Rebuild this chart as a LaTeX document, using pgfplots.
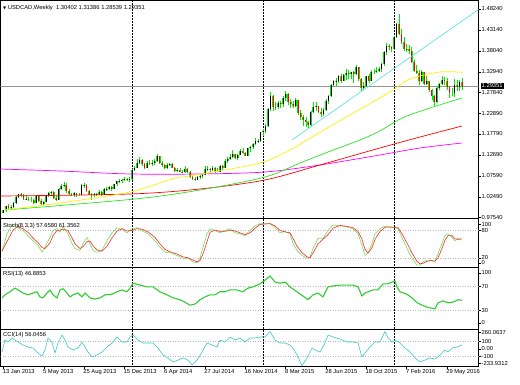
\documentclass[border=0pt]{standalone}
\usepackage{fontspec}
\setmainfont{Liberation Sans}
\newfontfamily\dejavu{DejaVu Sans}
\usepackage{pgfplots}
\usepackage{pgfplotstable}
\pgfplotsset{compat=1.18}

\definecolor{candle}{RGB}{0,235,0}
\definecolor{maY}{RGB}{255,240,0}
\definecolor{maG}{RGB}{40,230,40}
\definecolor{maR}{RGB}{255,0,0}
\definecolor{maM}{RGB}{255,0,255}
\definecolor{trend}{RGB}{80,225,225}
\definecolor{pline}{RGB}{150,150,150}
\definecolor{stM}{RGB}{110,225,90}
\definecolor{stS}{RGB}{255,40,40}
\definecolor{rsiC}{RGB}{50,205,50}
\definecolor{cciC}{RGB}{60,200,190}
\definecolor{lvl}{RGB}{185,185,185}

\newcommand\mtf{\fontsize{5.8}{6.5}\selectfont}

\pgfplotstableread{
i o h l c
0 0.9856 0.9935 0.9840 0.9920
1 0.9920 1.0030 0.9885 1.0015
2 1.0015 1.0065 0.9950 0.9975
3 0.9975 1.0035 0.9930 1.0000
4 1.0000 1.0110 0.9985 1.0090
5 1.0090 1.0265 1.0075 1.0245
6 1.0245 1.0325 1.0220 1.0305
7 1.0305 1.0345 1.0250 1.0290
8 1.0290 1.0310 1.0170 1.0200
9 1.0200 1.0280 1.0170 1.0205
10 1.0205 1.0250 1.0140 1.0160
11 1.0160 1.0230 1.0110 1.0160
12 1.0160 1.0190 1.0060 1.0095
13 1.0095 1.0295 1.0085 1.0275
14 1.0275 1.0285 1.0130 1.0150
15 1.0150 1.0190 1.0040 1.0080
16 1.0080 1.0150 1.0050 1.0125
17 1.0125 1.0290 1.0110 1.0280
18 1.0280 1.0370 1.0250 1.0340
19 1.0340 1.0395 1.0260 1.0365
20 1.0365 1.0400 1.0200 1.0220
21 1.0220 1.0260 1.0150 1.0180
22 1.0180 1.0450 1.0160 1.0435
23 1.0435 1.0560 1.0410 1.0515
24 1.0515 1.0610 1.0480 1.0530
25 1.0530 1.0580 1.0350 1.0385
26 1.0385 1.0445 1.0300 1.0325
27 1.0325 1.0350 1.0260 1.0290
28 1.0290 1.0375 1.0240 1.0330
29 1.0330 1.0350 1.0250 1.0300
30 1.0300 1.0340 1.0275 1.0300
31 1.0300 1.0550 1.0285 1.0530
32 1.0530 1.0575 1.0460 1.0545
33 1.0545 1.0560 1.0360 1.0385
34 1.0385 1.0420 1.0280 1.0300
35 1.0300 1.0330 1.0180 1.0280
36 1.0280 1.0340 1.0240 1.0310
37 1.0310 1.0350 1.0260 1.0320
38 1.0320 1.0410 1.0300 1.0360
39 1.0360 1.0380 1.0265 1.0300
40 1.0300 1.0450 1.0290 1.0435
41 1.0435 1.0480 1.0400 1.0445
42 1.0445 1.0520 1.0410 1.0480
43 1.0480 1.0500 1.0400 1.0440
44 1.0440 1.0570 1.0430 1.0560
45 1.0560 1.0640 1.0520 1.0620
46 1.0620 1.0670 1.0580 1.0630
47 1.0630 1.0690 1.0590 1.0650
48 1.0650 1.0720 1.0620 1.0690
49 1.0690 1.0710 1.0630 1.0660
50 1.0660 1.0720 1.0610 1.0670
51 1.0670 1.0920 1.0650 1.0900
52 1.0900 1.0990 1.0880 1.0960
53 1.0960 1.1170 1.0940 1.1080
54 1.1080 1.1225 1.1050 1.1140
55 1.1140 1.1180 1.1000 1.1040
56 1.1040 1.1060 1.0920 1.0960
57 1.0960 1.1130 1.0950 1.1080
58 1.1080 1.1140 1.1010 1.1060
59 1.1060 1.1150 1.1000 1.1070
60 1.1070 1.1160 1.1020 1.1120
61 1.1120 1.1280 1.1100 1.1240
62 1.1240 1.1250 1.1050 1.1060
63 1.1060 1.1110 1.0980 1.1020
64 1.1020 1.1040 1.0920 1.0950
65 1.0950 1.1060 1.0930 1.1030
66 1.1030 1.1080 1.0990 1.1050
67 1.1050 1.1070 1.0940 1.0960
68 1.0960 1.0980 1.0860 1.0880
69 1.0880 1.0940 1.0850 1.0900
70 1.0900 1.0950 1.0840 1.0860
71 1.0860 1.0910 1.0820 1.0840
72 1.0840 1.0990 1.0830 1.0930
73 1.0930 1.0950 1.0820 1.0850
74 1.0850 1.0880 1.0700 1.0720
75 1.0720 1.0750 1.0650 1.0680
76 1.0680 1.0720 1.0620 1.0660
77 1.0660 1.0760 1.0650 1.0720
78 1.0720 1.0790 1.0680 1.0750
79 1.0750 1.0800 1.0710 1.0780
80 1.0780 1.0990 1.0770 1.0920
81 1.0920 1.0990 1.0880 1.0930
82 1.0930 1.0960 1.0860 1.0890
83 1.0890 1.0990 1.0870 1.0960
84 1.0960 1.0980 1.0830 1.0860
85 1.0860 1.0960 1.0840 1.0860
86 1.0860 1.1020 1.0850 1.1000
87 1.1000 1.1030 1.0890 1.0960
88 1.0960 1.1160 1.0940 1.1110
89 1.1110 1.1220 1.1080 1.1180
90 1.1180 1.1280 1.1140 1.1220
91 1.1220 1.1380 1.1190 1.1280
92 1.1280 1.1300 1.1170 1.1190
93 1.1190 1.1280 1.1140 1.1270
94 1.1270 1.1410 1.1260 1.1370
95 1.1370 1.1440 1.1280 1.1320
96 1.1320 1.1340 1.1230 1.1250
97 1.1250 1.1440 1.1230 1.1430
98 1.1430 1.1480 1.1350 1.1460
99 1.1460 1.1570 1.1400 1.1540
100 1.1540 1.1680 1.1500 1.1600
101 1.1600 1.1650 1.1560 1.1610
102 1.1610 1.1830 1.1590 1.1820
103 1.1820 1.1900 1.1730 1.1850
104 1.1850 1.2030 1.1810 1.1970
105 1.1970 1.2400 1.1950 1.2375
106 1.2375 1.2800 1.2340 1.2710
107 1.2710 1.2720 1.2350 1.2445
108 1.2445 1.2560 1.2360 1.2430
109 1.2430 1.2580 1.2380 1.2530
110 1.2530 1.2580 1.2400 1.2510
111 1.2510 1.2700 1.2430 1.2650
112 1.2650 1.2835 1.2590 1.2760
113 1.2760 1.2780 1.2490 1.2550
114 1.2550 1.2620 1.2410 1.2500
115 1.2500 1.2590 1.2420 1.2450
116 1.2450 1.2650 1.2430 1.2600
117 1.2600 1.2610 1.2240 1.2280
118 1.2280 1.2360 1.2120 1.2190
119 1.2190 1.2230 1.1980 1.2120
120 1.2120 1.2190 1.1940 1.2070
121 1.2070 1.2100 1.1920 1.1990
122 1.1990 1.2330 1.1970 1.2320
123 1.2320 1.2560 1.2290 1.2440
124 1.2440 1.2560 1.2340 1.2450
125 1.2450 1.2460 1.2280 1.2325
126 1.2325 1.2400 1.2200 1.2270
127 1.2270 1.2420 1.2220 1.2360
128 1.2360 1.2640 1.2340 1.2590
129 1.2590 1.2740 1.2520 1.2710
130 1.2710 1.2990 1.2690 1.2960
131 1.2960 1.3100 1.2940 1.3060
132 1.3060 1.3150 1.2950 1.3080
133 1.3080 1.3220 1.3010 1.3190
134 1.3190 1.3230 1.3020 1.3080
135 1.3080 1.3250 1.3060 1.3210
136 1.3210 1.3350 1.3100 1.3260
137 1.3260 1.3330 1.3120 1.3240
138 1.3240 1.3300 1.3120 1.3280
139 1.3280 1.3320 1.3020 1.3240
140 1.3240 1.3460 1.3220 1.3410
141 1.3410 1.3420 1.3080 1.3130
142 1.3130 1.3140 1.2830 1.2900
143 1.2900 1.3040 1.2840 1.2950
144 1.2950 1.3200 1.2940 1.3180
145 1.3180 1.3240 1.3020 1.3080
146 1.3080 1.3330 1.3060 1.3300
147 1.3300 1.3370 1.3230 1.3300
148 1.3300 1.3400 1.3260 1.3320
149 1.3320 1.3400 1.3290 1.3350
150 1.3350 1.3500 1.3280 1.3480
151 1.3480 1.3800 1.3430 1.3770
152 1.3770 1.3990 1.3700 1.3920
153 1.3920 1.3960 1.3820 1.3890
154 1.3890 1.3930 1.3780 1.3840
155 1.3840 1.4170 1.3820 1.4140
156 1.4140 1.4480 1.4120 1.4460
157 1.4460 1.4690 1.4180 1.4225
158 1.4225 1.4330 1.3960 1.4020
159 1.4020 1.4150 1.3800 1.3860
160 1.3860 1.3960 1.3780 1.3850
161 1.3850 1.3950 1.3720 1.3790
162 1.3790 1.3900 1.3500 1.3525
163 1.3525 1.3580 1.3290 1.3325
164 1.3325 1.3460 1.3250 1.3270
165 1.3270 1.3330 1.2970 1.3065
166 1.3065 1.3330 1.3040 1.3300
167 1.3300 1.3300 1.2980 1.3000
168 1.3000 1.3190 1.2970 1.3070
169 1.3070 1.3080 1.2800 1.2850
170 1.2850 1.2870 1.2610 1.2705
171 1.2705 1.2730 1.2460 1.2550
172 1.2550 1.2920 1.2530 1.2910
173 1.2910 1.3030 1.2840 1.2990
174 1.2990 1.3190 1.2970 1.3095
175 1.3095 1.3170 1.2960 1.3060
176 1.3060 1.3140 1.2850 1.2915
177 1.2915 1.2950 1.2650 1.2770
178 1.2770 1.2900 1.2710 1.2770
179 1.2770 1.3120 1.2680 1.2970
180 1.2970 1.3100 1.2830 1.2920
181 1.2920 1.3100 1.2830 1.3040
182 1.3040 1.3139 1.2854 1.2935
}\ohlc

\pgfplotsset{
  mtbase/.style={
    scale only axis, width=478pt,
    axis line style={black, line width=0.9pt},
    tick style={black, line width=0.4pt},
    tick align=outside, major tick length=2.5pt,
    ytick pos=right, yticklabel pos=right,
    xtick=\empty,
    yticklabel style={font=\mtf, anchor=west, inner sep=0.5pt},
    xticklabel style={font=\mtf},
    clip=true,
  },
  sep/.style={black, line width=0.6pt, dash pattern=on 2pt off 1pt},
  lev/.style={lvl, line width=0.5pt, dash pattern=on 1pt off 1.5pt},
}

\begin{document}
\begin{tikzpicture}
\useasboundingbox[fill=white] (0,0) rectangle (520pt,384pt);

% ---------------- main price panel ----------------
\begin{axis}[mtbase, at={(0.5pt,165.5pt)}, anchor=south west, height=218pt,
  xmin=-1.15, xmax=188.53, ymin=0.9718, ymax=1.5031,
  ytick={1.4824,1.4314,1.3804,1.3294,1.2784,1.2289,1.1779,1.1269,1.0759,1.0249,0.9754},
  yticklabels={1.48240,1.43140,1.38040,1.32940,1.27840,1.22890,1.17790,1.12690,1.07590,1.02490,0.97540}]
\addplot[pline, line width=0.6pt] coordinates {(-2,1.29351) (190,1.29351)};
\addplot[sep] coordinates {(51,0.9) (51,1.6)};
\addplot[sep] coordinates {(103,0.9) (103,1.6)};
\addplot[sep] coordinates {(155,0.9) (155,1.6)};
% wicks
\addplot[candle, line width=0.6pt, quiver={u=0, v=\thisrow{h}-\thisrow{l}}] table[x=i, y=l] {\ohlc};
% bodies
\addplot[candle, line width=1.8pt, restrict expr to domain={\thisrow{c}-\thisrow{o}}{0:1},
  quiver={u=0, v=\thisrow{c}-\thisrow{o}}] table[x=i, y=o] {\ohlc};
\addplot[candle, line width=1.8pt, restrict expr to domain={\thisrow{o}-\thisrow{c}}{0:1},
  quiver={u=0, v=\thisrow{o}-\thisrow{c}}] table[x=i, y=c] {\ohlc};
\addplot[black, line width=0.7pt, restrict expr to domain={\thisrow{c}-\thisrow{o}}{0:1},
  quiver={u=0, v=\thisrow{c}-\thisrow{o}}] table[x=i, y=o] {\ohlc};
\addplot[red, line width=0.7pt, restrict expr to domain={\thisrow{o}-\thisrow{c}}{0:1},
  quiver={u=0, v=\thisrow{o}-\thisrow{c}}] table[x=i, y=c] {\ohlc};
% moving averages
\addplot[maM, line width=0.7pt, smooth] coordinates {(-1.35,1.0924) (22.5,1.0876) (50.2,1.0803) (78.0,1.0803) (103.8,1.0851) (125.6,1.1022) (149.4,1.1266) (165.3,1.1436) (182.0,1.1558)};
\addplot[maR, line width=0.7pt, smooth] coordinates {(-1.35,1.0266) (50.2,1.0315) (78.0,1.0437) (103.8,1.0657) (125.6,1.1022) (149.4,1.1436) (165.3,1.1704) (182.0,1.1972)};
\addplot[maG, line width=0.7pt, smooth] coordinates {(0.6,0.9925) (52.2,1.0193) (78.0,1.0413) (103.8,1.0729) (117.7,1.1070) (129.6,1.1356) (141.5,1.1631) (149.4,1.1851) (158.2,1.2167) (169.3,1.2411) (182.0,1.2655)};
\addplot[maY, line width=0.7pt, smooth] coordinates {(0.6,0.9930) (22.5,1.0096) (50.2,1.0364) (68.1,1.0705) (74.0,1.0754) (101.8,1.1071) (113.7,1.1387) (121.7,1.1680) (137.5,1.2240) (153.4,1.2801) (161.3,1.3118) (173.3,1.3289) (182.4,1.3280)};
\addplot[trend, line width=0.6pt] coordinates {(114.5,1.1631) (188.53,1.4812)};
\end{axis}

% ---------------- Stochastic ----------------
\begin{axis}[mtbase, at={(0.5pt,117pt)}, anchor=south west, height=48.5pt,
  xmin=0.5, xmax=478.5, ymin=0, ymax=105,
  ytick={93,80,20,9}, yticklabels={100,80,20,0}]
\addplot[lev] coordinates {(0,80) (480,80)};
\addplot[lev] coordinates {(0,20) (480,20)};
\addplot[sep] coordinates {(131.9,-10) (131.9,120)};
\addplot[sep] coordinates {(263,-10) (263,120)};
\addplot[sep] coordinates {(394,-10) (394,120)};
\addplot[stM, line width=0.6pt, line join=round] coordinates {
(2,32) (7,72) (13,93) (18,85) (23,79) (28,68) (33,57) (38,47) (42,32) (45,43) (50,64) (53,79) (57,83) (60,75) (63,87) (68,72) (72,51) (75,40) (80,36) (83,51) (87,64) (90,51) (93,36) (97,32) (102,36) (107,57) (112,74) (117,85) (122,81) (127,74) (132,83) (137,85) (142,79) (148,72) (155,57) (160,43) (165,32) (170,32) (177,25) (183,19) (188,19) (193,11) (197,9) (200,19) (203,43) (207,72) (210,83) (215,79) (220,74) (225,79) (230,83) (235,74) (240,72) (245,68) (250,79) (255,89) (260,94) (270,94) (275,85) (280,74) (285,77) (290,72) (293,51) (297,36) (302,25) (307,19) (310,21) (313,40) (318,62) (323,62) (328,79) (333,91) (340,89) (347,87) (353,83) (358,72) (362,47) (365,25) (368,30) (372,51) (375,72) (380,83) (385,89) (390,85) (393,87) (398,83) (402,64) (407,40) (412,19) (417,4) (420,4) (423,11) (427,15) (430,15) (435,11) (438,30) (442,51) (445,68) (448,72) (452,64) (455,57) (458,62) (462,58)};
\addplot[stS, line width=0.6pt, line join=round] coordinates {
(2,35) (7,55) (13,80) (18,88) (23,83) (28,75) (33,63) (38,53) (42,42) (45,40) (50,52) (53,68) (57,79) (60,80) (63,82) (68,79) (72,63) (75,50) (80,40) (83,44) (87,55) (90,56) (93,46) (97,37) (102,34) (107,45) (112,63) (117,78) (122,83) (127,78) (132,79) (137,83) (142,82) (148,76) (155,64) (160,50) (165,38) (170,33) (177,28) (183,22) (188,20) (193,15) (197,11) (200,14) (203,28) (207,55) (210,75) (215,80) (220,77) (225,77) (230,80) (235,78) (240,74) (245,70) (250,74) (255,84) (260,92) (270,94) (275,89) (280,79) (285,76) (290,74) (293,62) (297,45) (302,31) (307,22) (310,20) (313,30) (318,50) (323,60) (328,70) (333,84) (340,90) (347,88) (353,85) (358,77) (362,60) (365,38) (368,30) (372,42) (375,60) (380,77) (385,86) (390,87) (393,86) (398,85) (402,72) (407,52) (412,30) (417,12) (420,7) (423,8) (427,12) (430,14) (435,13) (438,20) (442,40) (445,58) (448,68) (452,68) (455,61) (458,60) (462,61)};
\end{axis}

% ---------------- RSI ----------------
\begin{axis}[mtbase, at={(0.5pt,55pt)}, anchor=south west, height=62pt,
  xmin=0.5, xmax=478.5, ymin=0, ymax=101.6,
  ytick={92,70,30,10}, yticklabels={100,70,30,0}]
\addplot[lev] coordinates {(0,70) (480,70)};
\addplot[lev] coordinates {(0,30) (480,30)};
\addplot[sep] coordinates {(131.9,-10) (131.9,120)};
\addplot[sep] coordinates {(263,-10) (263,120)};
\addplot[sep] coordinates {(394,-10) (394,120)};
\addplot[rsiC, line width=1.1pt, line join=round] coordinates {
(2,51) (5,56) (10,61) (15,67) (18,64) (23,59) (28,56) (33,59) (37,61) (40,52.5) (43,51) (47,59) (50,64) (53,56) (57,51) (60,64) (63,66) (67,59) (70,52.5) (73,56) (78,59) (82,52.5) (85,59) (90,51) (95,49) (100,51) (105,56) (112,57) (117,61) (122,64) (127,61) (130,67) (133,75) (140,72) (147,69) (153,69) (160,61) (167,56) (173,51) (180,48) (185,44) (190,39) (195,41) (200,48) (205,52.5) (210,56) (215,56) (220,61) (225,61) (230,64) (237,64) (243,61) (248,67) (253,69) (260,74) (265,80) (270,87) (275,77) (280,75) (285,77) (290,69) (297,61) (303,54) (308,48) (313,56) (318,59) (323,52.5) (328,69) (333,70.5) (340,72) (347,72) (353,72) (358,69) (362,54) (365,59) (368,61) (373,64) (378,64) (383,74) (388,74) (392,77) (395,79) (397,69) (400,61) (407,57) (412,51) (417,43) (422,39) (427,36) (432,34) (435,33) (438,43) (443,46) (448,43) (453,44) (458,48) (462,47)};
\end{axis}

% ---------------- CCI ----------------
\begin{axis}[mtbase, at={(0.5pt,18pt)}, anchor=south west, height=37pt,
  xmin=0.5, xmax=478.5, ymin=-233.8, ymax=273.8,
  ytick={232,100,0,-100,-195}, yticklabels={260.0637,100,0.00,-100,-233.9312},
  xtick={3.4,43.72,84.04,124.36,164.68,205.0,245.32,285.64,325.96,366.28,406.6,446.92},
  xticklabels={13 Jan 2013,5 May 2013,25 Aug 2013,15 Dec 2013,6 Apr 2014,27 Jul 2014,16 Nov 2014,8 Mar 2015,28 Jun 2015,18 Oct 2015,7 Feb 2016,29 May 2016},
  xtick pos=bottom,
  xticklabel style={anchor=north west, xshift=-1.8pt, inner sep=1pt}]
\addplot[lev] coordinates {(0,100) (480,100)};
\addplot[lev] coordinates {(0,-100) (480,-100)};
\addplot[sep] coordinates {(131.9,-300) (131.9,300)};
\addplot[sep] coordinates {(263,-300) (263,300)};
\addplot[sep] coordinates {(394,-300) (394,300)};
\addplot[cciC, line width=0.6pt, line join=round] coordinates {
(2,-42) (5,123) (8,95) (12,150) (15,123) (18,95) (23,54) (28,27) (33,13) (37,-42) (42,-97) (45,-14) (48,150) (52,95) (55,-56) (58,82) (62,191) (65,123) (68,27) (73,-14) (78,13) (82,95) (85,27) (88,-42) (92,-110) (97,-83) (102,-42) (107,27) (112,82) (117,164) (122,95) (127,95) (130,164) (133,191) (138,123) (143,82) (148,82) (153,82) (158,13) (163,-83) (168,-124) (173,-179) (178,-152) (183,-124) (188,-152) (192,-220) (197,-152) (202,-42) (207,82) (212,54) (217,27) (220,123) (225,95) (230,164) (235,123) (240,150) (245,95) (250,150) (255,150) (260,164) (265,164) (270,240) (275,123) (280,82) (285,82) (290,54) (293,13) (297,-83) (302,-230) (307,-124) (312,13) (315,-14) (320,-42) (325,82) (328,191) (333,164) (340,137) (347,95) (353,95) (358,82) (362,-110) (365,-56) (370,27) (375,95) (380,95) (385,240) (388,150) (392,95) (395,123) (400,82) (405,13) (410,-42) (415,-124) (420,-179) (425,-152) (430,-124) (435,-138) (440,-83) (445,-14) (448,-42) (452,13) (457,27) (462,56)};
\end{axis}

% ---------------- texts ----------------
\node[anchor=west, inner sep=0pt, font=\mtf] at (3pt,376pt) {{\dejavu\fontsize{4}{5}\selectfont ▼}\ USDCAD,Weekly\ \ 1.30402 1.31386 1.28539 1.29351};
\node[anchor=west, inner sep=0pt, font=\mtf] at (3pt,158pt) {Stoch(8,3,3) 57.6580 61.3562};
\node[anchor=west, inner sep=0pt, font=\mtf] at (3pt,110pt) {RSI(13) 46.8853};
\node[anchor=west, inner sep=0pt, font=\mtf] at (3pt,49pt) {CCI(14) 56.0456};
\node[anchor=west, fill=black, text=white, inner xsep=1pt, inner ysep=1.2pt, font=\mtf] at (480.5pt,298pt) {1.29351};
\end{tikzpicture}
\end{document}
